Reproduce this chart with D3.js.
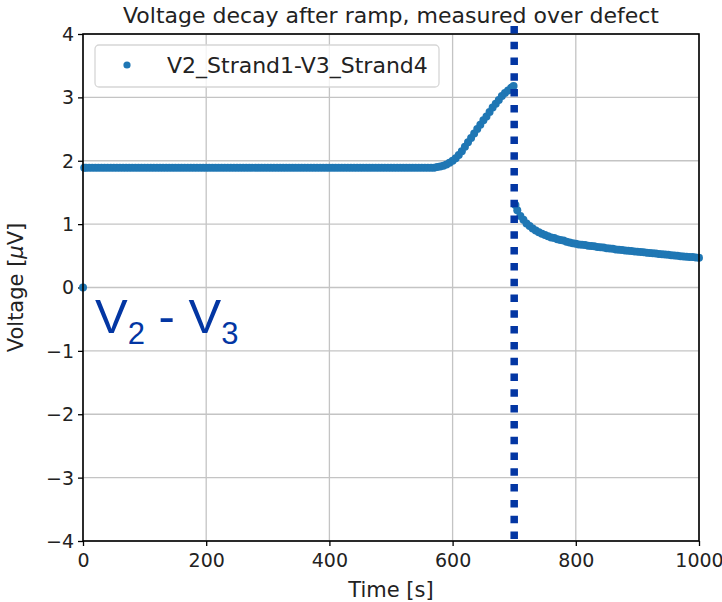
<!DOCTYPE html>
<html>
<head>
<meta charset="utf-8">
<script src="https://cdn.jsdelivr.net/npm/d3@7"></script>
<style>
  body { margin: 0; background: #fff; }
  svg { display: block; font-family: "DejaVu Sans", sans-serif; }
</style>
</head>
<body>
<svg id="chart" width="722" height="602"></svg>
<script>
// data (5 s sampling)
var seriesName = "V2_Strand1-V3_Strand4";
var startTime = [0];
var startVolt = [0];

var rampTime = [2, 5, 10, 15, 20, 25, 30, 35, 40, 45, 50, 55, 60, 65, 70, 75, 80, 85, 90, 95,
  100, 105, 110, 115, 120, 125, 130, 135, 140, 145, 150, 155, 160, 165, 170, 175, 180, 185, 190, 195,
  200, 205, 210, 215, 220, 225, 230, 235, 240, 245, 250, 255, 260, 265, 270, 275, 280, 285, 290, 295,
  300, 305, 310, 315, 320, 325, 330, 335, 340, 345, 350, 355, 360, 365, 370, 375, 380, 385, 390, 395,
  400, 405, 410, 415, 420, 425, 430, 435, 440, 445, 450, 455, 460, 465, 470, 475, 480, 485, 490, 495,
  500, 505, 510, 515, 520, 525, 530, 535, 540, 545, 550, 555, 560, 565, 570, 575, 580, 585, 590, 595,
  600, 605, 610, 615, 620, 625, 630, 635, 640, 645, 650, 655, 660, 665, 670, 675, 680, 685, 690, 695, 699];
var rampVolt = [1.89, 1.89, 1.89, 1.89, 1.89, 1.89, 1.89, 1.89, 1.89, 1.89, 1.89, 1.89, 1.89, 1.89, 1.89, 1.89, 1.89, 1.89, 1.89, 1.89,
  1.89, 1.89, 1.89, 1.89, 1.89, 1.89, 1.89, 1.89, 1.89, 1.89, 1.89, 1.89, 1.89, 1.89, 1.89, 1.89, 1.89, 1.89, 1.89, 1.89,
  1.89, 1.89, 1.89, 1.89, 1.89, 1.89, 1.89, 1.89, 1.89, 1.89, 1.89, 1.89, 1.89, 1.89, 1.89, 1.89, 1.89, 1.89, 1.89, 1.89,
  1.89, 1.89, 1.89, 1.89, 1.89, 1.89, 1.89, 1.89, 1.89, 1.89, 1.89, 1.89, 1.89, 1.89, 1.89, 1.89, 1.89, 1.89, 1.89, 1.89,
  1.89, 1.89, 1.89, 1.89, 1.89, 1.89, 1.89, 1.89, 1.89, 1.89, 1.89, 1.89, 1.89, 1.89, 1.89, 1.89, 1.89, 1.89, 1.89, 1.89,
  1.89, 1.89, 1.89, 1.89, 1.89, 1.89, 1.89, 1.89, 1.89, 1.89, 1.89, 1.89, 1.89, 1.89, 1.89, 1.90, 1.91, 1.92, 1.94, 1.97,
  2.00, 2.04, 2.09, 2.15, 2.22, 2.29, 2.36, 2.43, 2.50, 2.57, 2.64, 2.70, 2.77, 2.84, 2.90, 2.96, 3.02, 3.07, 3.11, 3.15, 3.18];

var decayTime = [702, 705, 710, 715, 720, 725, 730, 735, 740, 745, 750, 755, 760, 765, 770, 775, 780, 785, 790, 795,
  800, 805, 810, 815, 820, 825, 830, 835, 840, 845, 850, 855, 860, 865, 870, 875, 880, 885, 890, 895,
  900, 905, 910, 915, 920, 925, 930, 935, 940, 945, 950, 955, 960, 965, 970, 975, 980, 985, 990, 995, 1000];
var decayVolt = [1.30, 1.22, 1.13, 1.07, 1.01, 0.97, 0.93, 0.90, 0.87, 0.85, 0.83, 0.81, 0.79, 0.78, 0.76, 0.75, 0.74, 0.72, 0.71, 0.70,
  0.69, 0.68, 0.675, 0.67, 0.66, 0.655, 0.65, 0.64, 0.635, 0.63, 0.62, 0.615, 0.61, 0.60, 0.595, 0.59, 0.585, 0.58, 0.575, 0.57,
  0.565, 0.56, 0.555, 0.55, 0.545, 0.54, 0.535, 0.53, 0.525, 0.52, 0.515, 0.51, 0.505, 0.50, 0.495, 0.49, 0.485, 0.48, 0.48, 0.475, 0.47];

var xTicks = [0, 200, 400, 600, 800, 1000];
var yTicks = [-4, -3, -2, -1, 0, 1, 2, 3, 4];
var rampEnd = 700;   // dotted marker
var markerTop = 4.22;

var points = [];
function addPoints(ts, vs){
  for(var ii = 0; ii < ts.length; ii++){
    points.push({t: ts[ii], v: vs[ii]});
  }
}
addPoints(startTime, startVolt);
addPoints(rampTime, rampVolt);
addPoints(decayTime, decayVolt);

// plot box (note: "top" is taken by window.top)
var pL = 83, pR = 699, pT = 34, pB = 541;
var blue = "#1f77b4";
var dark = "#0336a3";

var svg = d3.select("#chart");
var x = d3.scaleLinear().domain([0, 1000]).range([pL, pR]);
var y = d3.scaleLinear().domain([-4, 4]).range([pB, pT]);

// grid
svg.append("g").selectAll("line").data(xTicks).enter().append("line")
  .attr("x1", function(d){ return x(d); }).attr("x2", function(d){ return x(d); })
  .attr("y1", pT).attr("y2", pB)
  .attr("stroke", "#c4c4c4").attr("stroke-width", 1.3);
svg.append("g").selectAll("line").data(yTicks).enter().append("line")
  .attr("x1", pL).attr("x2", pR)
  .attr("y1", function(d){ return y(d); }).attr("y2", function(d){ return y(d); })
  .attr("stroke", "#c4c4c4").attr("stroke-width", 1.3);

// axes
var fmt = function(d){ return d < 0 ? "\u2212" + Math.abs(d) : "" + d; };
var xAxis = svg.append("g").attr("transform", "translate(0," + pB + ")")
  .call(d3.axisBottom(x).tickValues(xTicks).tickFormat(fmt).tickSize(5).tickPadding(4));
var yAxis = svg.append("g").attr("transform", "translate(" + pL + ",0)")
  .call(d3.axisLeft(y).tickValues(yTicks).tickFormat(fmt).tickSize(5).tickPadding(4));
[xAxis, yAxis].forEach(function(a){
  a.select(".domain").remove();
  a.selectAll(".tick line").attr("stroke", "#000").attr("stroke-width", 1.3);
  a.selectAll(".tick text").attr("fill", "#222").style("font-size", "19px")
    .style("font-family", "DejaVu Sans");
});
yAxis.selectAll(".tick text").attr("dy", "0.34em");
xAxis.selectAll(".tick text").attr("dy", "0.9em");

// scatter
svg.append("g").selectAll("circle").data(points).enter().append("circle")
  .attr("cx", function(d){ return x(d.t); })
  .attr("cy", function(d){ return y(d.v); })
  .attr("r", 4)
  .attr("fill", blue);

// frame
svg.append("rect").attr("x", pL).attr("y", pT)
  .attr("width", pR - pL).attr("height", pB - pT)
  .attr("fill", "none").attr("stroke", "#000").attr("stroke-width", 1.6);

// dotted marker at end of ramp
svg.append("line")
  .attr("x1", x(rampEnd)).attr("x2", x(rampEnd))
  .attr("y1", y(-4) - 2).attr("y2", y(markerTop))
  .attr("stroke", dark).attr("stroke-width", 7.5)
  .attr("stroke-dasharray", "7.5,8.3");

// legend
var lg = svg.append("g");
lg.append("rect").attr("x", 95).attr("y", 45).attr("width", 344).attr("height", 42)
  .attr("rx", 4).attr("fill", "#fff").attr("fill-opacity", 0.8)
  .attr("stroke", "#d6d6d6").attr("stroke-width", 1.3);
lg.append("circle").attr("cx", 127).attr("cy", 65).attr("r", 3.6).attr("fill", blue);
lg.append("text").attr("x", 167).attr("y", 73).text(seriesName)
  .style("font-size", "22px").attr("fill", "#222");

// title and labels
svg.append("text").attr("x", (pL + pR) / 2).attr("y", 23)
  .attr("text-anchor", "middle").style("font-size", "22px").attr("fill", "#222")
  .text("Voltage decay after ramp, measured over defect");
svg.append("text").attr("x", (pL + pR) / 2).attr("y", 597)
  .attr("text-anchor", "middle").style("font-size", "21px").attr("fill", "#222")
  .text("Time [s]");
var yl = svg.append("text").attr("transform", "translate(23," + ((pT + pB) / 2) + ") rotate(-90)")
  .attr("text-anchor", "middle").style("font-size", "21px").attr("fill", "#222");
yl.append("tspan").text("Voltage [");
yl.append("tspan").style("font-style", "italic").text("\u03bc");
yl.append("tspan").text("V]");

// V2 - V3 annotation
var ann = svg.append("text").attr("x", 95).attr("y", 333)
  .style("font-family", "Liberation Sans, Arial, sans-serif").style("font-size", "49px").attr("fill", dark);
ann.append("tspan").text("V");
ann.append("tspan").attr("dy", 11).style("font-size", "31px").text("2");
ann.append("tspan").attr("dy", -11).text(" - V");
ann.append("tspan").attr("dy", 11).style("font-size", "31px").text("3");
</script>
</body>
</html>
